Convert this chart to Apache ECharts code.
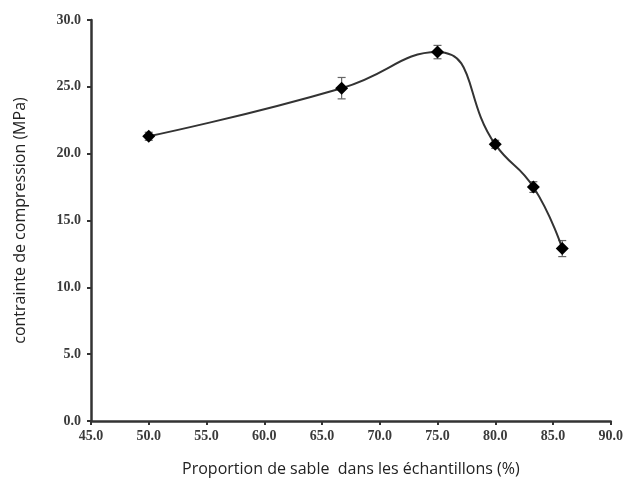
<!DOCTYPE html>
<html lang="fr">
<head>
    <meta charset="UTF-8">
    <title>Contrainte de compression</title>
    <script src="https://cdn.jsdelivr.net/npm/echarts@6/dist/echarts.min.js"></script>
    <style>
        html, body { margin: 0; padding: 0; background: #fff; }
        #chart { width: 626px; height: 486px; }
    </style>
</head>
<body>
<div id="chart"></div>
<script>
    // sand proportion (%) and compressive stress (MPa)
    var sandPct = [50.0, 66.7, 75.0, 80.0, 83.3, 85.8];
    var stress = [21.3, 24.9, 27.6, 20.7, 17.5, 12.9];
    var errBar = [0.3, 0.8, 0.5, 0.3, 0.4, 0.6];

    var points = sandPct.map(function (x, i) { return [x, stress[i]]; });
    var errData = sandPct.map(function (x, i) { return [x, stress[i] - errBar[i], stress[i] + errBar[i]]; });

    var tickFont = {
        fontFamily: 'Liberation Serif',
        fontWeight: 'bold',
        fontSize: 14,
        color: '#3a3a3a'
    };

    var chart = echarts.init(document.getElementById('chart'));
    chart.setOption({
        animation: false,
        grid: { left: 91, right: 15, top: 20, bottom: 65 },
        xAxis: {
            type: 'value',
            min: 45, max: 90, interval: 5,
            name: 'Proportion de sable  dans les échantillons (%)',
            nameLocation: 'middle',
            nameGap: 40,
            nameTextStyle: { fontFamily: 'Open Sans', fontSize: 16, color: '#222' },
            axisLine: { lineStyle: { color: '#333', width: 2.5 } },
            axisTick: { show: true, length: 4, lineStyle: { color: '#333', width: 2 } },
            axisLabel: Object.assign({ margin: 8, formatter: function (v) { return v.toFixed(1); } }, tickFont),
            splitLine: { show: false }
        },
        yAxis: {
            type: 'value',
            min: 0, max: 30, interval: 5,
            name: 'contrainte de compression (MPa)',
            nameLocation: 'middle',
            nameGap: 63,
            nameTextStyle: { fontFamily: 'Open Sans', fontSize: 16, color: '#222' },
            axisLine: { show: true, lineStyle: { color: '#333', width: 2.5 } },
            axisTick: { show: true, length: 4, lineStyle: { color: '#333', width: 2 } },
            axisLabel: Object.assign({ margin: 10, formatter: function (v) { return v.toFixed(1); } }, tickFont),
            splitLine: { show: false }
        },
        series: [
            {
                type: 'line',
                data: points,
                smooth: 0.5,
                symbol: 'diamond',
                symbolSize: 13,
                itemStyle: { color: '#000' },
                lineStyle: { color: '#333', width: 2 },
                z: 3
            },
            {
                type: 'custom',
                data: errData,
                z: 2,
                renderItem: function (params, api) {
                    var lo = api.coord([api.value(0), api.value(1)]);
                    var hi = api.coord([api.value(0), api.value(2)]);
                    var w = 4;
                    var st = { stroke: '#666', lineWidth: 1.2 };
                    return {
                        type: 'group',
                        children: [
                            { type: 'line', shape: { x1: lo[0], y1: lo[1], x2: hi[0], y2: hi[1] }, style: st },
                            { type: 'line', shape: { x1: lo[0] - w, y1: lo[1], x2: lo[0] + w, y2: lo[1] }, style: st },
                            { type: 'line', shape: { x1: hi[0] - w, y1: hi[1], x2: hi[0] + w, y2: hi[1] }, style: st }
                        ]
                    };
                }
            }
        ]
    });
</script>
</body>
</html>
